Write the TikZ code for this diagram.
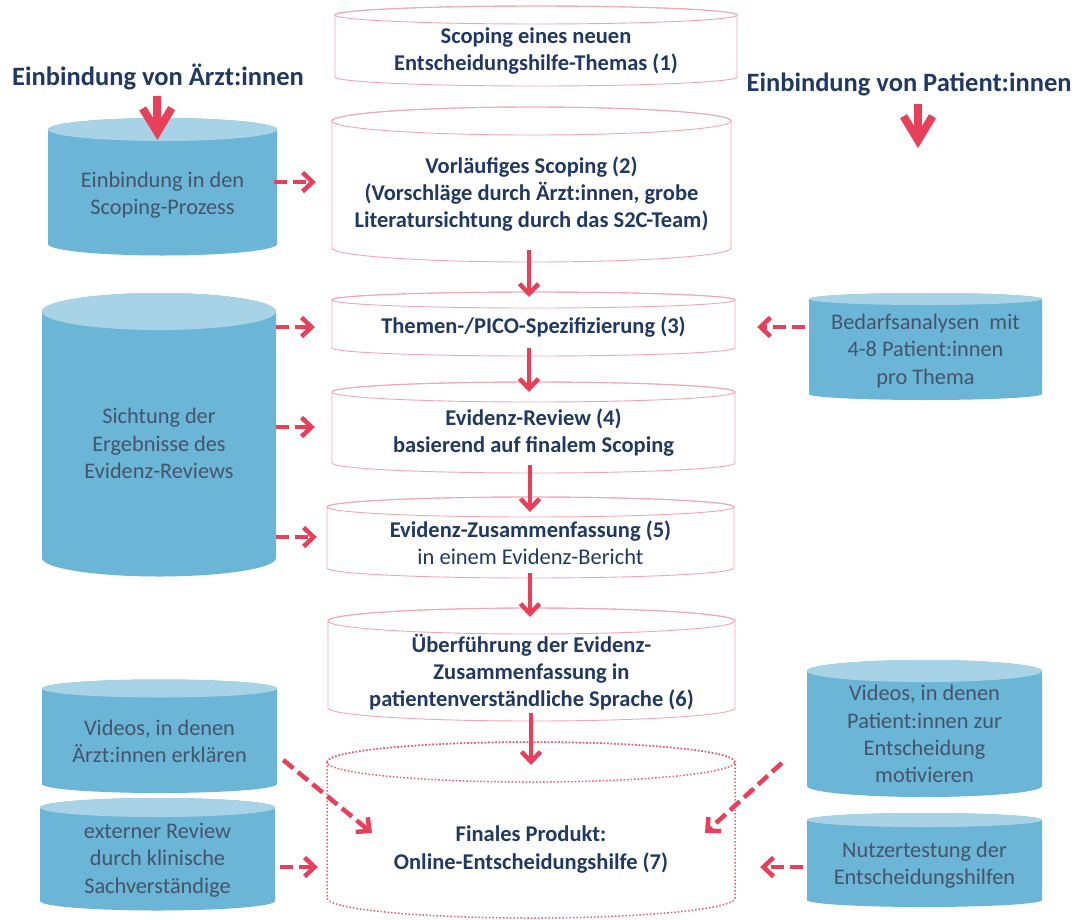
\documentclass[tikz,border=0pt]{standalone}
\usepackage{fontspec}
\setmainfont{Carlito}
\usetikzlibrary{arrows.meta,calc}
\definecolor{navy}{HTML}{203864}
\definecolor{slate}{HTML}{44546A}
\definecolor{arrred}{HTML}{E8405A}
\definecolor{cylbody}{HTML}{6BB5D6}
\definecolor{cyltop}{HTML}{A8D3E6}
\definecolor{pinkline}{HTML}{F2A6B3}
\newcommand\cylshape[7]{% cx, yt, yb, rx, ry, bodystyle, topstyle
  \path[#6] ({#1-#4},#2) -- ({#1-#4},#3) arc[start angle=180,end angle=360,x radius=#4,y radius=#5]
     -- ({#1+#4},#2) arc[start angle=0,end angle=180,x radius=#4,y radius=#5] -- cycle;
  \path[#7] (#1,#2) ellipse[x radius=#4,y radius=#5];
}
\tikzset{
  wcyl/.style={fill=white, draw=pinkline, line width=0.9},
  wtop/.style={draw=pinkline, line width=0.9},
  dcyl/.style={fill=white, draw=arrred!85, line width=1.5, dotted},
  dtop/.style={draw=arrred!85, line width=1.5, dotted},
  bcyl/.style={fill=cylbody},
  btop/.style={fill=cyltop},
  wtxt/.style={text=navy, font=\fontsize{22.5}{27.3}\selectfont\bfseries, align=center, inner sep=0},
  btxt/.style={text=slate, font=\fontsize{22.3}{27.3}\selectfont, align=center, inner sep=0},
  ttl/.style={text=navy, font=\fontsize{26.5}{30}\selectfont\bfseries, inner sep=0},
  flow/.style={draw=arrred, line width=4.5, -{Straight Barb[length=10pt,width=19pt]}},
  dflow/.style={draw=arrred, line width=4.5, dash pattern=on 13pt off 6pt, -{Straight Barb[length=10pt,width=19pt]}},
  big/.style={draw=arrred, line width=8, -{Straight Barb[length=24pt,width=29pt]}},
}
\begin{document}
\begin{tikzpicture}[x=1pt,y=1pt]
\useasboundingbox (0,0) rectangle (1076,-919);
\fill[white] (0,0) rectangle (1076,-919);
% white cylinders
\cylshape{536}{-15}{-77}{201}{9}{wcyl}{wtop}
\cylshape{531.5}{-121}{-248}{199.5}{14}{wcyl}{wtop}
\cylshape{533.5}{-300}{-348}{201.5}{8}{wcyl}{wtop}
\cylshape{533.5}{-392}{-463}{201.5}{10}{wcyl}{wtop}
\cylshape{530.5}{-507}{-568}{203.5}{10}{wcyl}{wtop}
\cylshape{531.5}{-621}{-708}{203.5}{13}{wcyl}{wtop}
\cylshape{531}{-762}{-898}{204}{20}{dcyl}{dtop}
% blue cylinders
\cylshape{162.5}{-129.5}{-244}{114.5}{11.5}{bcyl}{btop}
\cylshape{159}{-311.5}{-558}{117}{18.5}{bcyl}{btop}
\cylshape{925.5}{-299}{-394}{116.5}{6}{bcyl}{btop}
\cylshape{159.5}{-688.5}{-784}{117.5}{9}{bcyl}{btop}
\cylshape{157.5}{-807.5}{-901}{117.5}{9.5}{bcyl}{btop}
\cylshape{924.5}{-671}{-786}{117.5}{11}{bcyl}{btop}
\cylshape{924.5}{-820}{-900}{117.5}{7}{bcyl}{btop}
% titles
\node[ttl] (TL) at (158,-77) {Einbindung von Ärzt:innen};
\node[ttl] (TR) at (909,-84) {Einbindung von Patient:innen};
% white cylinder texts
\node[wtxt, minimum width=402] (c1) at (536,-51) {Scoping eines neuen\\Entscheidungshilfe-Themas (1)};
\node[wtxt, minimum width=399] (c2) at (531.5,-194) {Vorläufiges Scoping (2)\\(Vorschläge durch Ärzt:innen, grobe\\Literatursichtung durch das S2C-Team)};
\node[wtxt, minimum width=403] (c3) at (533.5,-327) {Themen-/PICO-Spezifizierung (3)};
\node[wtxt, minimum width=403] (c4) at (533.5,-432.5) {Evidenz-Review (4)\\basierend auf finalem Scoping};
\node[wtxt, minimum width=407] (c5) at (530.5,-542.5) {Evidenz-Zusammenfassung (5)\\\mdseries in einem Evidenz-Bericht};
\node[wtxt, minimum width=407] (c6) at (531.5,-672) {Überführung der Evidenz-\\Zusammenfassung in\\patientenverständliche Sprache (6)};
\node[wtxt, minimum width=408] (c7) at (531,-849.5) {Finales Produkt:\\Online-Entscheidungshilfe (7)};
% blue cylinder texts
\node[btxt, minimum width=229] (A) at (162.5,-195.5) {Einbindung in den\\Scoping-Prozess};
\node[btxt, minimum width=234] (B) at (159,-443.5) {Sichtung der\\Ergebnisse des\\Evidenz-Reviews};
\node[btxt, minimum width=233] (C) at (925.5,-351) {Bedarfsanalysen~ mit\\4-8 Patient:innen\\pro Thema};
\node[btxt, minimum width=235] (D) at (159.5,-741.5) {Videos, in denen\\Ärzt:innen erklären};
\node[btxt, minimum width=235] (E) at (157.5,-860) {externer Review\\durch klinische\\Sachverständige};
\node[btxt, minimum width=235] (F) at (924.5,-734) {Videos, in denen\\Patient:innen zur\\Entscheidung\\motivieren};
\node[btxt, minimum width=235] (G) at (924.5,-865.5) {Nutzertestung der\\Entscheidungshilfen};
\coordinate (trend) at (918,-148);
% big arrows
\draw[big] ($(TL)+(-1,-19)$) -- ($(A)+(-5,55.5)$);
\draw[big] ($(TR)+(9,-20)$) -- (trend);
% main flow
\draw[flow] ($(c2)+(-2.5,-56)$) -- ($(c3)+(-4.5,30)$);
\draw[flow] ($(c3)+(-4.5,-21)$) -- ($(c4)+(-4.5,40.5)$);
\draw[flow] ($(c4)+(-3.5,-32.5)$) -- ($(c5)+(-0.5,30.5)$);
\draw[flow] ($(c5)+(-0.5,-30.5)$) -- ($(c6)+(-1.5,55)$);
\draw[flow] ($(c6)+(-0.5,-41)$) -- ($(c7)+(0,84.5)$);
% dashed inputs
\draw[dflow] ($(A.east)+(-3,13.5)$) -- ($(c2.west)+(-16,12)$);
\draw[dflow] (B.east |- c3.west) -- ($(c3.west)+(-17,0)$);
\draw[dflow] ($(B.east |- c4.west)+(0,5.5)$) -- ($(c4.west)+(-17,5.5)$);
\draw[dflow] ($(B.east |- c5.west)+(0,5.5)$) -- ($(c5.west)+(-10,5.5)$);
\draw[dflow] ($(C.west |- c3.east)+(-4,0)$) -- ($(c3.east)+(22,0)$);
\draw[dflow] ($(E.east)+(5,-7)$) -- ($(c7.west)+(-9,-17.5)$);
\draw[dflow] ($(G.west)+(-4,-1.5)$) -- ($(c7.east)+(25,-17.5)$);
\draw[dflow] ($(D.east)+(6,-18.5)$) -- ($(c7)+(-159,16.5)$);
\draw[dflow] ($(F.west)+(-25,-29)$) -- ($(c7)+(174,16.5)$);
\end{tikzpicture}
\end{document}
